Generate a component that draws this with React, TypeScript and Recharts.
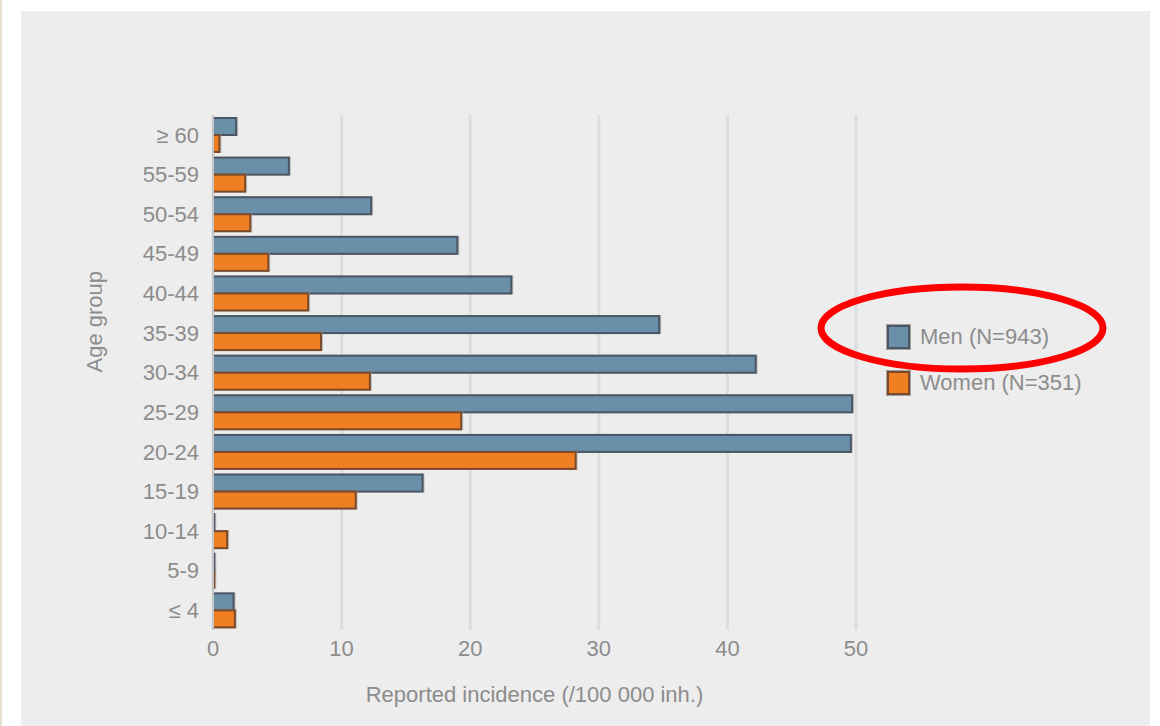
import React from 'react';
import { BarChart, Bar, XAxis, YAxis, CartesianGrid } from 'recharts';

// Age groups, top to bottom as drawn
const ageGroups = ['≥ 60', '55-59', '50-54', '45-49', '40-44', '35-39', '30-34', '25-29', '20-24', '15-19', '10-14', '5-9', '≤ 4'];
const menValues = [1.8, 5.9, 12.3, 19.0, 23.2, 34.7, 42.2, 49.7, 49.6, 16.3, 0.1, 0.1, 1.6];
const womenValues = [0.5, 2.5, 2.9, 4.3, 7.4, 8.4, 12.2, 19.3, 28.2, 11.1, 1.1, 0.1, 1.7];
const xTicks = [0, 10, 20, 30, 40, 50];
const legendItems = [
  { label: 'Men (N=943)', fill: '#6a8fa9', stroke: '#4b5563' },
  { label: 'Women (N=351)', fill: '#f07e22', stroke: '#7b4a2a' },
];

const data = ageGroups.map((group, i) => ({
  group,
  men: menValues[i],
  women: womenValues[i],
}));

const FONT = '"Liberation Sans", Arial, sans-serif';
const TEXT = '#8c8c8c';

const ShadowBar = (props: any) => {
  const { x, y, width, height, fill, stroke } = props;
  if (!width || width < 0) return null;
  return (
    <g>
      <rect x={x - 1} y={y - 1} width={width + 3} height={height + 2} fill="#9c9c9c" opacity={0.55} />
      <rect x={x} y={y} width={width} height={height} fill={fill} stroke={stroke} strokeWidth={2} />
    </g>
  );
};

export default function App() {
  return (
    <div style={{ position: 'fixed', left: 0, top: 0, width: 1160, height: 726, background: '#ffffff', overflow: 'hidden' }}>
      <div style={{ position: 'absolute', left: 0, top: 0, width: 2, height: 726, background: '#e6dfd2' }} />
      <div style={{ position: 'absolute', left: 21, top: 11, width: 1129, height: 715, background: '#ecedec' }} />
      <div style={{ position: 'absolute', left: 0, top: 0 }}>
        <BarChart
          width={1160}
          height={726}
          data={data}
          layout="vertical"
          margin={{ top: 115, right: 304, left: 0, bottom: 16 }}
          barCategoryGap={3}
          barGap={0}
        >
          <CartesianGrid horizontal={false} stroke="#dcdddc" strokeWidth={3} />
          <XAxis
            type="number"
            domain={[0, 50]}
            ticks={xTicks}
            height={80}
            axisLine={false}
            tickLine={false}
            tickMargin={4}
            tick={{ fill: TEXT, fontSize: 22, fontFamily: FONT }}
            label={{ value: 'Reported incidence (/100 000 inh.)', position: 'insideBottom', offset: 8, fill: TEXT, fontSize: 22, fontFamily: FONT }}
          />
          <YAxis
            type="category"
            dataKey="group"
            width={213}
            axisLine={{ stroke: '#c6c6c6', strokeWidth: 2 }}
            tickLine={false}
            tickMargin={8}
            tick={{ fill: TEXT, fontSize: 22, fontFamily: FONT }}
            label={{ value: 'Age group', angle: -90, position: 'insideLeft', offset: 94, fill: TEXT, fontSize: 22, fontFamily: FONT }}
          />
          <Bar dataKey="men" name="Men (N=943)" fill="#6a8fa9" stroke="#4b5563" shape={ShadowBar} isAnimationActive={false} />
          <Bar dataKey="women" name="Women (N=351)" fill="#f07e22" stroke="#7b4a2a" shape={ShadowBar} isAnimationActive={false} />
        </BarChart>
      </div>
      <div style={{ position: 'absolute', left: 887, top: 325, fontFamily: FONT, fontSize: 22, color: TEXT }}>
        {legendItems.map((item, i) => (
          <div key={item.label} style={{ display: 'flex', alignItems: 'center', height: 24, marginBottom: i === 0 ? 22 : 0 }}>
            <div
              style={{
                width: 19,
                height: 20,
                background: item.fill,
                border: `2px solid ${item.stroke}`,
                boxShadow: '0 0 0 1px #a0a0a0',
                marginRight: 10,
              }}
            />
            <span>{item.label}</span>
          </div>
        ))}
      </div>
      <svg width={1160} height={726} style={{ position: 'absolute', left: 0, top: 0, pointerEvents: 'none' }}>
        <ellipse cx={962} cy={328} rx={141} ry={41} fill="none" stroke="#ff0000" strokeWidth={7} />
      </svg>
    </div>
  );
}
